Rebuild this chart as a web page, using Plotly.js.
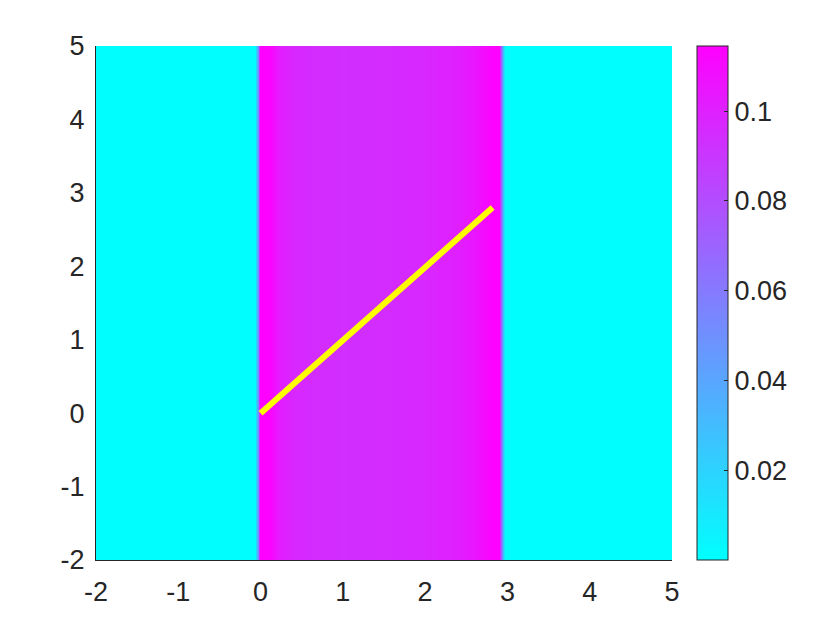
<!DOCTYPE html>
<html>
<head>
<meta charset="utf-8">
<script src="https://cdn.plot.ly/plotly-3.0.1.min.js"></script>
<style>html,body{margin:0;padding:0;background:#fff;}#chart{width:840px;height:630px;}</style>
</head>
<body>
<div id="chart"></div>
<script>
// Profile across x (field is constant in y)
var xGrid = [-2, -0.07, -0.05, -0.035, -0.02, -0.005, 0.12, 0.22, 0.4, 0.7, 1.0, 1.5, 2.0, 2.4, 2.6, 2.75, 2.85, 2.895, 2.92, 2.945, 2.97, 5];
var profile = [0.0005, 0.0005, 0.02, 0.05, 0.09, 0.114, 0.113, 0.102, 0.097, 0.095, 0.094, 0.095, 0.097, 0.101, 0.105, 0.111, 0.114, 0.114, 0.07, 0.03, 0.0005, 0.0005];
var yGrid = [-2, 5];
// Yellow line endpoints
var lineX = [0, 2.82];
var lineY = [0, 2.8];
var xTicks = [-2, -1, 0, 1, 2, 3, 4, 5];
var yTicks = [-2, -1, 0, 1, 2, 3, 4, 5];
var cbTickVals = [0.02, 0.04, 0.06, 0.08, 0.1];
var cbTickText = ['0.02', '0.04', '0.06', '0.08', '0.1'];

var z = yGrid.map(function(){ return profile.slice(); });

var FONT = 'Liberation Sans, Arial, Helvetica, sans-serif';
var TXT = '#262626';
var FS = 27;

var traces = [
  {
    type: 'heatmap',
    x: xGrid, y: yGrid, z: z,
    zsmooth: 'best',
    zmin: 0.0, zmax: 0.1145,
    colorscale: [[0, '#00ffff'], [1, '#ff00ff']],
    hoverinfo: 'skip',
    colorbar: {
      x: 1.0434, xanchor: 'left', xref: 'paper',
      y: 0.5, yanchor: 'middle', len: 1, lenmode: 'fraction',
      thickness: 31, thicknessmode: 'pixels',
      outlinewidth: 1, outlinecolor: TXT,
      tickvals: cbTickVals, ticktext: cbTickText,
      ticks: 'inside', ticklen: 4, tickcolor: TXT, tickwidth: 1,
      tickprefix: '\u00a0',
      tickfont: {family: FONT, size: FS, color: TXT},
      xpad: 0, ypad: 0
    }
  },
  {
    type: 'scatter', mode: 'lines',
    x: lineX, y: lineY,
    line: {color: '#ffff00', width: 6},
    hoverinfo: 'skip', showlegend: false
  }
];

var layout = {
  width: 840, height: 630,
  margin: {l: 96, r: 168, t: 46, b: 70},
  paper_bgcolor: '#ffffff', plot_bgcolor: '#ffffff',
  showlegend: false,
  font: {family: FONT, size: FS, color: TXT},
  xaxis: {
    range: [-2, 5], tickvals: xTicks, ticktext: xTicks.map(String),
    showgrid: false, zeroline: false, showline: true, linecolor: TXT, linewidth: 1,
    ticks: '', ticklabelstandoff: 8,
    tickfont: {family: FONT, size: FS, color: TXT}
  },
  yaxis: {
    range: [-2, 5], tickvals: yTicks, ticktext: yTicks.map(String),
    showgrid: false, zeroline: false, showline: true, linecolor: TXT, linewidth: 1,
    ticks: '', ticklabelstandoff: 5,
    tickfont: {family: FONT, size: FS, color: TXT}
  }
};

Plotly.newPlot('chart', traces, layout, {staticPlot: true, displayModeBar: false});
</script>
</body>
</html>
